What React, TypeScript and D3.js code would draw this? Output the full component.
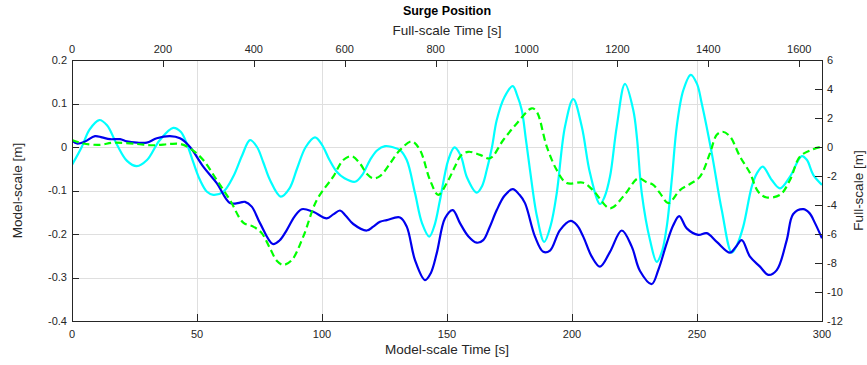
import React from "react";
import * as d3 from "d3";

// ---- data (model-scale time [s], model-scale surge [m]) ----
const cyanTime = [0, 3.9, 7, 10.9, 14, 18, 22, 25.9, 30, 35, 40.5, 43.5, 45.9, 48.5, 51.2, 54, 56.5, 60.5, 64.5, 68, 71.2, 74, 76.5, 79.2, 83.5, 87, 90, 93.5, 97.2, 100, 103, 105.9, 109, 113.2, 116, 119.2, 122, 125.2, 128, 131.2, 133.9, 137.2, 140, 142.9, 145, 147.2, 150.5, 153, 155.5, 158, 161.9, 164, 165.9, 168, 169.9, 173, 176.3, 178, 179.9, 181.5, 183.2, 186, 188.9, 191.5, 193.9, 197.2, 200.5, 203.9, 207.2, 211.2, 213, 215.2, 217.9, 221.2, 224.5, 226, 227.9, 231.2, 233.9, 236, 237.9, 240, 241.9, 244.5, 247.5, 250, 251.9, 255.9, 259.9, 263.9, 266, 268.5, 271.9, 274, 276.3, 279.9, 283.2, 287.2, 291.9, 294, 296.5, 300];
const cyanValue = [-0.041, 0, 0.04, 0.062, 0.05, 0.005, -0.032, -0.044, -0.03, 0.015, 0.044, 0.035, 0.008, -0.035, -0.076, -0.103, -0.11, -0.103, -0.068, -0.02, 0.016, 0.0, -0.035, -0.076, -0.114, -0.095, -0.05, 0.0, 0.022, 0.005, -0.03, -0.057, -0.072, -0.08, -0.065, -0.03, -0.008, 0.002, 0.0, -0.007, -0.03, -0.106, -0.175, -0.206, -0.18, -0.122, -0.03, -0.001, -0.02, -0.07, -0.105, -0.09, -0.053, 0.0, 0.062, 0.115, 0.14, 0.12, 0.085, 0.02, -0.053, -0.16, -0.218, -0.18, -0.106, 0.047, 0.11, 0.047, -0.06, -0.131, -0.115, -0.068, 0.047, 0.145, 0.085, 0.02, -0.106, -0.214, -0.264, -0.24, -0.183, -0.07, 0.047, 0.13, 0.166, 0.145, 0.1, -0.014, -0.145, -0.243, -0.225, -0.183, -0.091, -0.06, -0.045, -0.076, -0.095, -0.068, -0.021, -0.03, -0.064, -0.087];

const blueTime = [0, 2, 5, 9.2, 12, 15.2, 19.2, 21.9, 26, 29.9, 33.9, 39.2, 43.2, 47.2, 52.5, 57.9, 63.2, 67.2, 69.2, 71.9, 75.2, 80.3, 83, 85.9, 89, 91.9, 96.5, 101.9, 104.5, 107.2, 109.5, 112.5, 117.9, 120.5, 123.2, 125.9, 131.2, 133.9, 137.2, 141.2, 143.5, 145.9, 149.2, 152.3, 155.2, 158.5, 161.9, 164.5, 167, 169.9, 173, 176.3, 179, 181.2, 185.2, 188.5, 191.2, 195.2, 199.5, 202, 204.5, 207.9, 211.2, 215.2, 219.9, 223.9, 227.2, 231.9, 234.5, 237.9, 240.5, 242.9, 245.9, 250.5, 253.9, 257.9, 263.2, 265.5, 267.9, 271.2, 275.2, 278.5, 281.9, 285.9, 288.5, 292.5, 295, 297.2, 300];
const blueValue = [0.015, 0.008, 0.012, 0.025, 0.022, 0.018, 0.018, 0.013, 0.01, 0.01, 0.02, 0.025, 0.02, 0.0, -0.045, -0.083, -0.129, -0.128, -0.126, -0.137, -0.175, -0.223, -0.215, -0.191, -0.16, -0.143, -0.149, -0.164, -0.155, -0.146, -0.158, -0.177, -0.192, -0.183, -0.172, -0.168, -0.162, -0.183, -0.26, -0.306, -0.29, -0.244, -0.164, -0.145, -0.175, -0.205, -0.22, -0.214, -0.185, -0.145, -0.112, -0.097, -0.11, -0.129, -0.206, -0.241, -0.238, -0.191, -0.17, -0.18, -0.206, -0.252, -0.275, -0.241, -0.192, -0.229, -0.285, -0.315, -0.283, -0.221, -0.18, -0.159, -0.187, -0.202, -0.198, -0.218, -0.243, -0.23, -0.214, -0.252, -0.275, -0.294, -0.283, -0.214, -0.154, -0.143, -0.152, -0.175, -0.21];

const greenTime = [0, 4.5, 11.2, 16.5, 25.9, 32.5, 39.2, 43.2, 47.2, 52.5, 57.9, 63.2, 68.5, 72.5, 75.9, 79.2, 82, 84.5, 87.9, 92.5, 97.9, 104.5, 108.5, 111.9, 115.2, 118, 120.5, 123.2, 127.2, 131.2, 135.9, 139.2, 143.2, 146.5, 149.9, 153.2, 155.5, 158.5, 163.2, 167.2, 172.5, 177.9, 183.9, 185.9, 189.9, 193.9, 197.9, 204.5, 208.5, 215.2, 220.5, 226.5, 229.5, 232.5, 235.2, 238.5, 243.2, 247.2, 251.2, 255.2, 257.9, 260.3, 263.2, 267.2, 271.2, 274.5, 277.9, 283.2, 287.2, 291.2, 296.5, 300];
const greenValue = [0.016, 0.008, 0.005, 0.01, 0.007, 0.004, 0.007, 0.007, -0.003, -0.03, -0.076, -0.122, -0.174, -0.183, -0.198, -0.233, -0.262, -0.271, -0.26, -0.206, -0.122, -0.068, -0.03, -0.021, -0.038, -0.062, -0.072, -0.067, -0.038, -0.007, 0.013, -0.007, -0.076, -0.11, -0.083, -0.045, -0.02, -0.011, -0.018, -0.026, 0.016, 0.054, 0.089, 0.081, 0.001, -0.053, -0.083, -0.082, -0.1, -0.141, -0.114, -0.072, -0.08, -0.087, -0.106, -0.129, -0.099, -0.085, -0.068, -0.014, 0.028, 0.035, 0.024, -0.022, -0.06, -0.103, -0.116, -0.11, -0.076, -0.022, -0.005, 0.001];

const bottomTicks = [0, 50, 100, 150, 200, 250, 300];
const topTicks = [0, 200, 400, 600, 800, 1000, 1200, 1400, 1600];
const leftTicks = [-0.4, -0.3, -0.2, -0.1, 0, 0.1, 0.2];
const rightTicks = [-12, -10, -8, -6, -4, -2, 0, 2, 4, 6];

const TITLE = "Surge Position";
const TOP_LABEL = "Full-scale Time [s]";
const BOTTOM_LABEL = "Model-scale Time [s]";
const LEFT_LABEL = "Model-scale [m]";
const RIGHT_LABEL = "Full-scale [m]";

const W = 867, H = 365;
const L = 72, R = 822, T = 60, B = 321;
const TXT = "#262626";
const FONT = "'Liberation Sans', Arial, Helvetica, sans-serif";
const TL = 7;

export default function App() {
  const x = d3.scaleLinear().domain([0, 300]).range([L, R]);
  const xTop = d3.scaleLinear().domain([0, 1650]).range([L, R]);
  const y = d3.scaleLinear().domain([-0.4, 0.2]).range([B, T]);
  const yRight = d3.scaleLinear().domain([-12, 6]).range([B, T]);

  const line = d3
    .line<[number, number]>()
    .x((d) => x(d[0]))
    .y((d) => y(d[1]))
    .curve(d3.curveCatmullRom.alpha(0.5));

  const zip = (a: number[], b: number[]) => a.map((t, i) => [t, b[i]] as [number, number]);

  const fmtL = (v: number) => (Math.abs(v) < 1e-9 ? "0" : d3.format(".1f")(v).replace("−", "-"));

  return (
    <svg
      width={W}
      height={H}
      style={{ position: "absolute", left: 0, top: 0, background: "#fff" }}
      fontFamily={FONT}
    >
      <rect x={0} y={0} width={W} height={H} fill="#fff" />
      {/* grid */}
      <g stroke="#dfdfdf" strokeWidth={1}>
        {bottomTicks.map((t) => (
          <line key={"gx" + t} x1={Math.round(x(t)) + 0.5} x2={Math.round(x(t)) + 0.5} y1={T} y2={B} />
        ))}
        {leftTicks.map((t) => (
          <line key={"gy" + t} x1={L} x2={R} y1={Math.round(y(t)) + 0.5} y2={Math.round(y(t)) + 0.5} />
        ))}
      </g>
      {/* series */}
      <defs>
        <clipPath id="plotclip">
          <rect x={L} y={T} width={R - L} height={B - T} />
        </clipPath>
      </defs>
      <g clipPath="url(#plotclip)" fill="none" strokeLinejoin="round">
        <path d={line(zip(cyanTime, cyanValue)) || ""} stroke="#00ffff" strokeWidth={2.2} />
        <path d={line(zip(blueTime, blueValue)) || ""} stroke="#0000ee" strokeWidth={2.2} />
        <path d={line(zip(greenTime, greenValue)) || ""} stroke="#00ff00" strokeWidth={2.2} strokeDasharray="7,4" />
      </g>
      {/* axes box */}
      <g stroke={TXT} strokeWidth={1} fill="none">
        <line x1={L + 0.5} x2={L + 0.5} y1={T} y2={B + 0.5} />
        <line x1={R + 0.5} x2={R + 0.5} y1={T} y2={B + 0.5} />
        <line x1={L} x2={R + 1} y1={T + 0.5} y2={T + 0.5} />
        <line x1={L} x2={R + 1} y1={B + 0.5} y2={B + 0.5} />
        {bottomTicks.map((t) => (
          <line key={"bt" + t} x1={Math.round(x(t)) + 0.5} x2={Math.round(x(t)) + 0.5} y1={B} y2={B - TL} />
        ))}
        {topTicks.map((t) => (
          <line key={"tt" + t} x1={Math.round(xTop(t)) + 0.5} x2={Math.round(xTop(t)) + 0.5} y1={T} y2={T + TL} />
        ))}
        {leftTicks.map((t) => (
          <line key={"lt" + t} x1={L} x2={L + TL} y1={Math.round(y(t)) + 0.5} y2={Math.round(y(t)) + 0.5} />
        ))}
        {rightTicks.map((t) => (
          <line key={"rt" + t} x1={R} x2={R - TL} y1={Math.round(yRight(t)) + 0.5} y2={Math.round(yRight(t)) + 0.5} />
        ))}
      </g>
      {/* tick labels */}
      <g fill={TXT} fontSize={11}>
        {bottomTicks.map((t) => (
          <text key={"bl" + t} x={x(t)} y={338} textAnchor="middle">
            {t}
          </text>
        ))}
        {topTicks.map((t) => (
          <text key={"tl" + t} x={xTop(t)} y={53} textAnchor="middle">
            {t}
          </text>
        ))}
        {leftTicks.map((t) => (
          <text key={"ll" + t} x={67} y={y(t)} dy="0.35em" textAnchor="end">
            {fmtL(t)}
          </text>
        ))}
        {rightTicks.map((t) => (
          <text key={"rl" + t} x={827} y={yRight(t)} dy="0.35em" textAnchor="start">
            {String(t)}
          </text>
        ))}
      </g>
      {/* labels */}
      <text x={(L + R) / 2} y={15} textAnchor="middle" fontSize={12.5} fontWeight="bold" fill="#000">
        {TITLE}
      </text>
      <text x={(L + R) / 2} y={35} textAnchor="middle" fontSize={13.5} fill={TXT}>
        {TOP_LABEL}
      </text>
      <text x={(L + R) / 2} y={354} textAnchor="middle" fontSize={13.5} fill={TXT}>
        {BOTTOM_LABEL}
      </text>
      <text
        transform={`translate(17, ${(T + B) / 2}) rotate(-90)`}
        textAnchor="middle"
        dominantBaseline="central"
        fontSize={13.5}
        fill={TXT}
      >
        {LEFT_LABEL}
      </text>
      <text
        transform={`translate(858, ${(T + B) / 2}) rotate(-90)`}
        textAnchor="middle"
        dominantBaseline="central"
        fontSize={13.5}
        fill={TXT}
      >
        {RIGHT_LABEL}
      </text>
    </svg>
  );
}
